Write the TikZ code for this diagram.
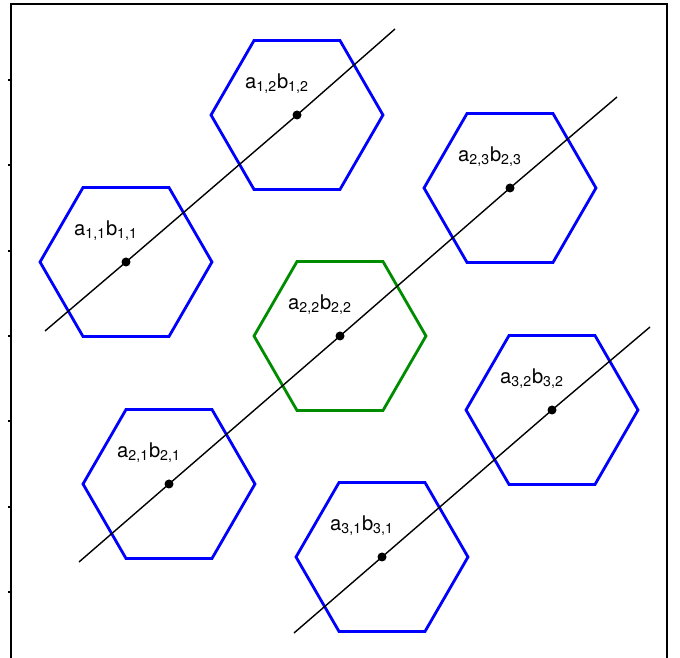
\documentclass[tikz,border=0pt]{standalone}
\usepackage{fontspec}
\setmainfont{TeX Gyre Heros}
\usetikzlibrary{shapes.geometric}

\begin{document}
\begin{tikzpicture}[x=0.02cm, y=-0.02cm,
    hexb/.style={regular polygon, regular polygon sides=6, draw=blue, line width=1.6pt, minimum size=3.44cm, inner sep=0pt},
    hexg/.style={hexb, draw=black!45!green},
    axisline/.style={black, line width=0.8pt},
    lab/.style={font=\fontsize{11.5}{13}\selectfont}]
        \useasboundingbox (0,0) rectangle (680,658);
        \clip (0,0) rectangle (680,658);

        % Frame and ticks
        \draw[line width=1.2pt] (11,700) -- (11,4) -- (667,4) -- (667,700);
        \foreach \t in {80,165.3,250.7,336,421.3,506.7,592}
            \draw[line width=1pt] (8,\t) -- (11,\t);

        % Draw hexagons
        \node[hexb] (h11) at (126,262) {};
        \node[hexb] (h12) at (297,115) {};
        \node[hexb] (h21) at (169,484) {};
        \node[hexg] (h22) at (340,336) {};
        \node[hexb] (h23) at (510,188) {};
        \node[hexb] (h31) at (382,557) {};
        \node[hexb] (h32) at (552,410) {};

        % Line ends
        \coordinate (s1) at (45,331);
        \coordinate (e1) at (395,29);
        \coordinate (s2) at (79,562);
        \coordinate (e2) at (617,97);
        \coordinate (s3) at (294,633);
        \coordinate (e3) at (650,327);

        % Draw lines
        \draw[axisline] (s1) -- (h11.center) -- (h12.center) -- (e1);
        \draw[axisline] (s2) -- (h21.center) -- (h22.center) -- (h23.center) -- (e2);
        \draw[axisline] (s3) -- (h31.center) -- (h32.center) -- (e3);

        % Centres and labels
        \foreach \i/\j in {1/1,1/2,2/1,2/2,2/3,3/1,3/2} {
            \fill (h\i\j.center) circle (4.5);
            \node[lab] at ([shift={(-20,-31)}]h\i\j.center) {a\textsubscript{\i,\j}b\textsubscript{\i,\j}};
        }
    \end{tikzpicture}
\end{document}
